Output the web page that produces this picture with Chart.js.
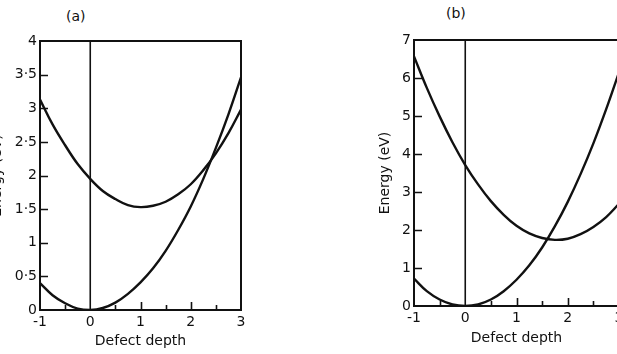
<!DOCTYPE html>
<html>
<head>
<meta charset="utf-8">
<script src="https://cdn.jsdelivr.net/npm/chart.js@4/dist/chart.umd.min.js"></script>
<style>
  html, body { margin: 0; padding: 0; width: 617px; height: 354px; overflow: hidden; background: #fff; }
  #wrapA { position: absolute; left: -15px; top: 0; width: 272px; height: 354px; }
  #wrapB { position: absolute; left: 373px; top: 0; width: 256px; height: 354px; }
  .lbl { position: absolute; font-family: "DejaVu Sans", sans-serif; font-size: 14px; line-height: 16px; color: #111; }
</style>
</head>
<body>
<div class="lbl" style="left:66px; top:8px;">(a)</div>
<div class="lbl" style="left:446px; top:5px;">(b)</div>
<div id="wrapA"><canvas id="cA" width="272" height="354"></canvas></div>
<div id="wrapB"><canvas id="cB" width="256" height="354"></canvas></div>
<script>
// ---- data ----
const depth = [-1, -0.75, -0.5, -0.25, 0, 0.25, 0.5, 0.75, 1, 1.25, 1.5, 1.75, 2, 2.25, 2.5, 2.75, 3];

// panel (a)
const groundA = [0.40, 0.22, 0.10, 0.02, 0.00, 0.03, 0.11, 0.24, 0.41, 0.62, 0.88, 1.19, 1.54, 1.95, 2.41, 2.91, 3.46];
const upperA  = [3.13, 2.76, 2.45, 2.17, 1.95, 1.77, 1.65, 1.56, 1.53, 1.55, 1.61, 1.72, 1.87, 2.08, 2.33, 2.63, 2.98];

// panel (b)
const groundB = [0.72, 0.39, 0.17, 0.04, 0.00, 0.04, 0.17, 0.39, 0.69, 1.07, 1.54, 2.10, 2.74, 3.47, 4.28, 5.18, 6.15];
const upperB  = [6.57, 5.74, 4.99, 4.31, 3.71, 3.20, 2.76, 2.40, 2.11, 1.91, 1.79, 1.74, 1.77, 1.89, 2.08, 2.34, 2.69];

// axes
const xTickLabels  = ['-1', '0', '1', '2', '3'];
const yTickLabelsA = ['0', '0·5', '1', '1·5', '2', '2·5', '3', '3·5', '4'];
const yTickLabelsB = ['0', '1', '2', '3', '4', '5', '6', '7'];
const xMajorMarks = [1, 2];
const xMinorMarks = [-0.5, 0.5, 1.5, 2.5];
const yMarksA = [0.5, 1, 1.5, 2, 2.5, 3, 3.5];
const yMarksB = [1, 2, 3, 4, 5, 6];
const xTitle = 'Defect depth';
const yTitle = 'Energy (eV)';

const INK = '#111';
const FONT = '"DejaVu Sans", sans-serif';

function pts(arr) { return depth.map((x, i) => ({ x: x, y: arr[i] })); }

const framePlugin = {
  id: 'frame',
  afterDatasetsDraw(chart, args, opts) {
    const ctx = chart.ctx;
    const a = chart.chartArea;
    const xs = chart.scales.x, ys = chart.scales.y;
    ctx.save();
    ctx.strokeStyle = INK;
    ctx.lineWidth = 2;
    ctx.strokeRect(a.left, a.top, a.right - a.left, a.bottom - a.top);
    ctx.lineWidth = 1.6;
    ctx.beginPath();
    opts.yMarks.forEach(v => {
      const py = Math.round(ys.getPixelForValue(v)) + 0.5;
      ctx.moveTo(a.left - 1, py); ctx.lineTo(a.left + 8, py);
    });
    xMajorMarks.forEach(v => {
      const px = Math.round(xs.getPixelForValue(v)) + 0.5;
      ctx.moveTo(px, a.bottom); ctx.lineTo(px, a.bottom - 8);
    });
    xMinorMarks.forEach(v => {
      const px = Math.round(xs.getPixelForValue(v)) + 0.5;
      ctx.moveTo(px, a.bottom); ctx.lineTo(px, a.bottom - 5);
    });
    ctx.stroke();
    ctx.restore();
  }
};

function makeChart(id, ground, upper, yMax, yStep, yLabels, yMarks, pad, yWidth, xHeight, yTickPad, xTitlePadBottom) {
  return new Chart(document.getElementById(id), {
    type: 'line',
    data: {
      datasets: [
        { data: pts(ground), borderColor: INK, borderWidth: 2.4, pointRadius: 0, tension: 0.4, fill: false },
        { data: pts(upper), borderColor: INK, borderWidth: 2.4, pointRadius: 0, tension: 0.4, fill: false },
        { data: [{ x: 0, y: 0 }, { x: 0, y: yMax }], borderColor: INK, borderWidth: 1.6, pointRadius: 0, fill: false }
      ]
    },
    options: {
      responsive: false,
      animation: false,
      devicePixelRatio: 1,
      layout: { padding: pad },
      plugins: { legend: { display: false }, tooltip: { enabled: false }, frame: { yMarks: yMarks } },
      scales: {
        x: {
          type: 'linear', min: -1, max: 3,
          grid: { display: false, drawTicks: false },
          border: { display: false },
          ticks: {
            stepSize: 1, padding: 4, color: INK, font: { family: FONT, size: 14 },
            maxRotation: 0, autoSkip: false,
            callback: (v, i) => xTickLabels[i]
          },
          title: { display: true, text: xTitle, color: INK, font: { family: FONT, size: 14 }, padding: { top: 4, bottom: xTitlePadBottom } },
          afterFit: s => { s.height = xHeight; }
        },
        y: {
          type: 'linear', min: 0, max: yMax,
          grid: { display: false, drawTicks: false },
          border: { display: false },
          ticks: {
            stepSize: yStep, padding: yTickPad, color: INK, font: { family: FONT, size: 14 },
            autoSkip: false,
            callback: (v, i) => yLabels[i]
          },
          title: { display: true, text: yTitle, color: INK, font: { family: FONT, size: 14 }, padding: { top: 4, bottom: 4 } },
          afterFit: s => { s.width = yWidth; }
        }
      }
    },
    plugins: [framePlugin]
  });
}

makeChart('cA', groundA, upperA, 4, 0.5, yTickLabelsA, yMarksA,
  { top: 41, right: 16, bottom: 0, left: 0 }, 55, 44, 3, 4);
makeChart('cB', groundB, upperB, 7, 1, yTickLabelsB, yMarksB,
  { top: 40, right: 10, bottom: 0, left: 0 }, 41, 48, 3, 7);
</script>
</body>
</html>
